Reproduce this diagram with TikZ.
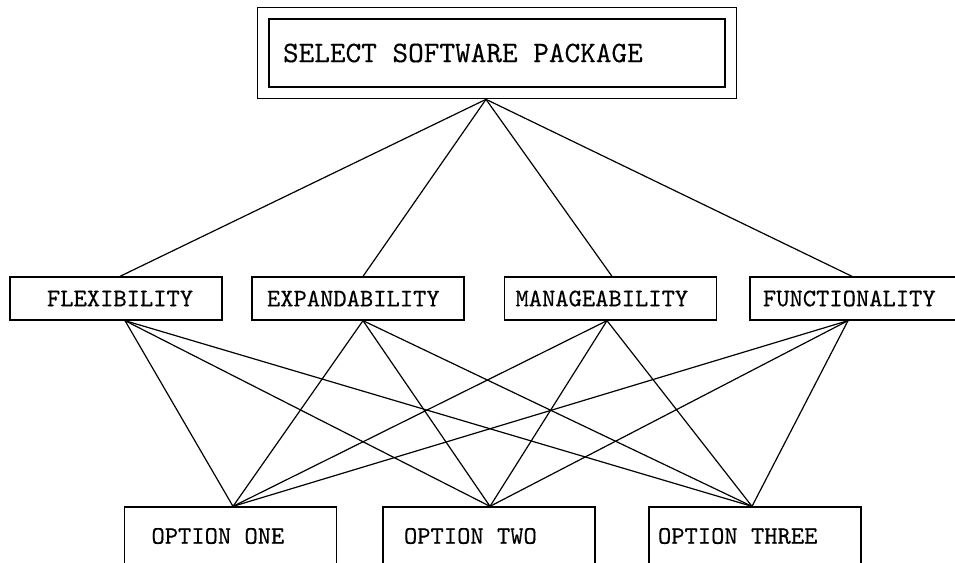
\documentclass[tikz,border=0pt]{standalone}
\usepackage{fontspec}
\usetikzlibrary{fit}
% typewriter face for the labels, slightly emboldened
\newfontfamily\labelfont{lmmono10-regular.otf}[FakeBold=0.3]
\begin{document}
\begin{tikzpicture}[x=1pt,y=-1pt,
  box/.style={draw, line width=1.3pt, inner xsep=0pt, inner ysep=0pt,
              font=\labelfont\fontsize{25.3}{30}\selectfont},
  link/.style={line width=1.2pt}]
\useasboundingbox (0,0) rectangle (955,562);
\clip (0,0) rectangle (955,562);

% goal at the top, in a double frame
\node[box, minimum height=68pt, font=\labelfont\fontsize{29.8}{35}\selectfont] (select) at (497,53)
  {\makebox[456pt][l]{\hspace{14pt}SELECT SOFTWARE PACKAGE}};
\node[draw, line width=1.4pt, fit=(select), inner xsep=11pt, inner ysep=11pt] (frame) {};

% criteria
\node[box, minimum height=43pt] (flex)   at (116,298.5)   {\makebox[212pt][l]{\hspace{37pt}FLEXIBILITY}};
\node[box, minimum height=43pt] (expand) at (358,298.5)   {\makebox[212pt][l]{\hspace{15pt}EXPANDABILITY}};
\node[box, minimum height=43pt] (manage) at (610.5,298.5) {\makebox[212pt][l]{\hspace{11pt}MANAGEABILITY}};
\node[box, minimum height=43pt] (func)   at (856,298.5)   {\makebox[212pt][l]{\hspace{13pt}FUNCTIONALITY}};

% alternatives
\node[box, minimum height=58pt] (one)   at (230.5,536) {\makebox[212pt][l]{\hspace{27pt}OPTION ONE}};
\node[box, minimum height=58pt] (two)   at (489,536)   {\makebox[212pt][l]{\hspace{21pt}OPTION TWO}};
\node[box, minimum height=58pt] (three) at (755,536)   {\makebox[212pt][l]{\hspace{9pt}OPTION THREE}};

% attachment points of the connectors
\coordinate (apex)       at ([xshift=-11pt]frame.south);
\coordinate (flex-in)    at ([xshift=4pt]flex.north);
\coordinate (expand-in)  at ([xshift=5pt]expand.north);
\coordinate (manage-in)  at ([xshift=1.5pt]manage.north);
\coordinate (func-in)    at ([xshift=-4pt]func.north);
\coordinate (flex-out)   at ([xshift=9pt]flex.south);
\coordinate (expand-out) at ([xshift=5pt]expand.south);
\coordinate (manage-out) at ([xshift=-3.5pt]manage.south);
\coordinate (func-out)   at ([xshift=-8pt]func.south);
\coordinate (one-in)     at ([xshift=2.5pt]one.north);
\coordinate (two-in)     at ([xshift=1pt]two.north);
\coordinate (three-in)   at ([xshift=-3pt]three.north);

\foreach \c in {flex-in,expand-in,manage-in,func-in}
  \draw[link] (apex) -- (\c);
\foreach \c in {flex-out,expand-out,manage-out,func-out}
  \foreach \o in {one-in,two-in,three-in}
    \draw[link] (\c) -- (\o);
\end{tikzpicture}
\end{document}
